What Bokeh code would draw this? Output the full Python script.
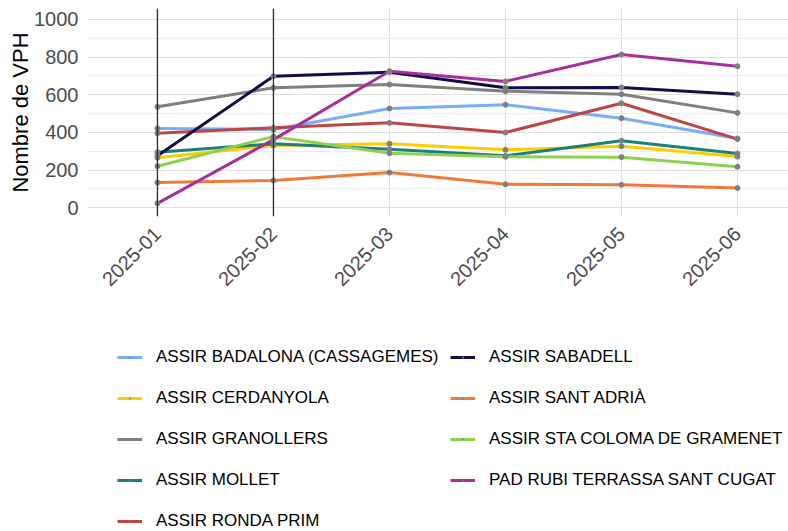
import math
from bokeh.plotting import figure
from bokeh.layouts import column
from bokeh.models import (FixedTicker, Span, Legend, LegendItem, ColumnDataSource)
from bokeh.embed import file_html
from bokeh.resources import INLINE

months = ["2025-01", "2025-02", "2025-03", "2025-04", "2025-05", "2025-06"]
vline_months = ["2025-01", "2025-02"]

series_names = [
    "ASSIR BADALONA (CASSAGEMES)",
    "ASSIR CERDANYOLA",
    "ASSIR GRANOLLERS",
    "ASSIR MOLLET",
    "ASSIR RONDA PRIM",
    "ASSIR SABADELL",
    "ASSIR SANT ADRIÀ",
    "ASSIR STA COLOMA DE GRAMENET",
    "PAD RUBI TERRASSA SANT CUGAT",
]

badalona = [421, 416, 527, 547, 476, 368]
cerdanyola = [266, 331, 340, 308, 327, 272]
granollers = [536, 637, 655, 619, 603, 504]
mollet = [295, 340, 311, 276, 356, 288]
ronda_prim = [396, 425, 451, 400, 555, 365]
sabadell = [277, 698, 720, 637, 639, 603]
sant_adria = [134, 145, 187, 125, 122, 105]
sta_coloma = [221, 378, 290, 271, 269, 218]
pad_rubi = [24, 362, 725, 671, 814, 751]

series_values = [badalona, cerdanyola, granollers, mollet, ronda_prim,
                 sabadell, sant_adria, sta_coloma, pad_rubi]

colors = ["#7AACF7", "#FFCC00", "#7F7F7F", "#1B7F7A", "#BF4545",
          "#150B48", "#F07838", "#8FD14F", "#A4319B"]

y_ticks = [0, 200, 400, 600, 800, 1000]
y_minor = [100, 300, 500, 700, 900]

FONT = "Liberation Sans"
W = 788

p = figure(width=W, height=300, output_backend="svg", toolbar_location=None,
           x_range=(-0.603, 5.44), y_range=(-46, 1058),
           min_border_left=87, min_border_right=0, min_border_top=8,
           min_border_bottom=84)
p.outline_line_color = None
p.background_fill_color = "white"
p.border_fill_color = "white"

x = list(range(len(months)))

# grid
p.xgrid.grid_line_color = "#dedede"
p.xgrid.grid_line_width = 1.1
p.ygrid.grid_line_color = "#dedede"
p.ygrid.grid_line_width = 1.1
p.ygrid.minor_grid_line_color = "#ececec"
p.ygrid.minor_grid_line_width = 1.0

# axes
p.yaxis.ticker = FixedTicker(ticks=y_ticks, minor_ticks=y_minor)
p.xaxis.ticker = FixedTicker(ticks=x)
p.xaxis.major_label_overrides = {i: m for i, m in zip(x, months)}
p.xaxis.major_label_orientation = math.pi / 4
for ax in (p.xaxis, p.yaxis):
    ax.axis_line_color = None
    ax.major_tick_line_color = None
    ax.minor_tick_line_color = None
    ax.major_label_text_color = "#4D4D4D"
    ax.major_label_text_font = FONT
    ax.major_label_text_font_size = "20px"
p.yaxis.major_label_standoff = 3
p.xaxis.major_label_standoff = 8
p.yaxis.axis_label = "Nombre de VPH"
p.yaxis.axis_label_text_font = FONT
p.yaxis.axis_label_text_font_size = "22px"
p.yaxis.axis_label_text_font_style = "normal"
p.yaxis.axis_label_text_color = "black"
p.yaxis.axis_label_standoff = -2

# vertical reference lines
for m in vline_months:
    p.add_layout(Span(location=months.index(m), dimension="height",
                      line_color="#2b2b2b", line_width=1.3))

sources = [ColumnDataSource(dict(x=x, y=vals)) for vals in series_values]
for src, col in zip(sources, colors):
    p.line("x", "y", source=src, line_color=col, line_width=3)
for src in sources:
    p.scatter("x", "y", source=src, size=5, fill_color="#7F7F7F",
              line_color="#7F7F7F")

# legend panel (separate figure below the chart; its ranges keep the data out of view)
q = figure(width=W, height=231, output_backend="svg", toolbar_location=None,
           x_range=(0, 1), y_range=(-2, -1), x_axis_location=None,
           y_axis_location=None, min_border_left=0, min_border_right=0,
           min_border_top=0, min_border_bottom=0)
q.outline_line_color = None
q.xgrid.visible = False
q.ygrid.visible = False

items = []
for name, src, col in zip(series_names, sources, colors):
    lr = q.line("x", "y", source=src, line_color=col, line_width=3)
    pr = q.scatter("x", "y", source=src, marker="dot", size=12,
                   fill_color="#7F7F7F", line_color="#7F7F7F")
    items.append(LegendItem(label=name, renderers=[lr, pr]))

common = dict(orientation="vertical", glyph_width=25, glyph_height=20,
              label_height=20, label_standoff=14, spacing=21, padding=0,
              margin=0, border_line_color=None, background_fill_alpha=0,
              label_text_font=FONT, label_text_font_size="17px",
              label_text_color="black")
leg1 = Legend(items=items[:5], location=(30, 0), **common)
leg2 = Legend(items=items[5:], location=(363, 41), **common)
q.add_layout(leg1)
q.add_layout(leg2)

layout = column(p, q, spacing=0)
open("out.html", "w").write(file_html(layout, INLINE))
